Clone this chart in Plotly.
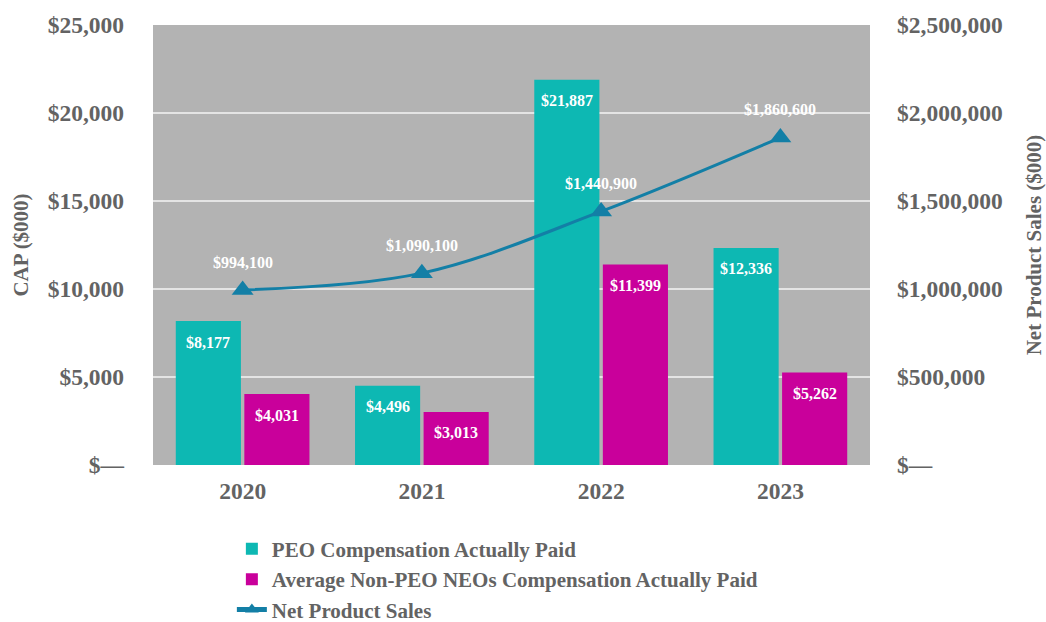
import plotly.graph_objects as go

years = ["2020", "2021", "2022", "2023"]
peo_cap = [8177, 4496, 21887, 12336]
neo_cap = [4031, 3013, 11399, 5262]
net_sales = [994100, 1090100, 1440900, 1860600]

left_ticks = [0, 5000, 10000, 15000, 20000, 25000]
left_text = ["$—", "$5,000", "$10,000", "$15,000", "$20,000", "$25,000"]
right_ticks = [0, 500000, 1000000, 1500000, 2000000, 2500000]
right_text = ["$—", "$500,000", "$1,000,000", "$1,500,000", "$2,000,000", "$2,500,000"]

TEAL = "#0db8b3"
MAGENTA = "#c9009b"
BLUE = "#137fa6"
GRAY = "#636363"
FONT = "Liberation Serif, Times New Roman, serif"

BARGAP = 0.235
OFF = (1 - BARGAP) / 4  # center offset of each bar within group

fig = go.Figure()
fig.add_trace(go.Bar(
    x=years, y=peo_cap, name="PEO Compensation Actually Paid",
    marker=dict(color=TEAL, line=dict(width=0)),
))
fig.add_trace(go.Bar(
    x=years, y=neo_cap, name="Average Non-PEO NEOs Compensation Actually Paid",
    marker=dict(color=MAGENTA, line=dict(width=0)),
))
fig.add_trace(go.Scatter(
    x=years, y=net_sales, name="Net Product Sales", yaxis="y2",
    mode="lines+markers",
    line=dict(color=BLUE, width=3, shape="spline"),
    marker=dict(symbol="triangle-up", size=19, color=BLUE),
))

ann = []
lab_font = dict(family=FONT, size=16, color="white", weight="bold")
for i, v in enumerate(peo_cap):
    ann.append(dict(x=i - OFF, y=v, xref="x", yref="y", text=f"${v:,}", showarrow=False,
                    yshift=-21, font=lab_font))
for i, v in enumerate(neo_cap):
    ann.append(dict(x=i + OFF, y=v, xref="x", yref="y", text=f"${v:,}", showarrow=False,
                    yshift=-21, font=lab_font))
for i, v in enumerate(net_sales):
    ann.append(dict(x=i, y=v, xref="x", yref="y2", text=f"${v:,}", showarrow=False,
                    yshift=28, font=lab_font))

fig.update_layout(
    width=1046, height=622,
    margin=dict(l=153, r=176, t=25, b=157),
    paper_bgcolor="white", plot_bgcolor="#b3b3b3",
    barmode="group", bargap=BARGAP, bargroupgap=0.05,
    font=dict(family=FONT, color=GRAY, size=20, weight="bold"),
    annotations=ann,
    xaxis=dict(showgrid=False, ticks="", automargin=False, ticklabelstandoff=9,
               tickfont=dict(size=23.5, color=GRAY, weight="bold")),
    yaxis=dict(range=[0, 25000], tickvals=left_ticks, ticktext=left_text,
               showgrid=True, gridcolor="#e4e4e4", gridwidth=2, zeroline=False,
               automargin=False, ticklabelstandoff=28,
               tickfont=dict(size=23.5, color=GRAY, weight="bold"), ticks="",
               title=dict(text="CAP ($000)", font=dict(size=21, color=GRAY, weight="bold"), standoff=13)),
    yaxis2=dict(range=[0, 2500000], tickvals=right_ticks, ticktext=right_text,
                overlaying="y", side="right", showgrid=False, zeroline=False,
                automargin=False, ticklabelstandoff=26, ticks="",
                tickfont=dict(size=23.5, color=GRAY, weight="bold"),
                title=dict(text="Net Product Sales ($000)", font=dict(size=21, color=GRAY, weight="bold"), standoff=24)),
    legend=dict(orientation="v", xref="paper", yref="container",
                x=0.110, xanchor="left", y=0.150, yanchor="top",
                font=dict(size=21, color=GRAY, weight="bold"), tracegroupgap=0,
                bgcolor="rgba(0,0,0,0)", itemsizing="constant"),
    showlegend=True,
)

fig.write_html(
    "out.html",
    config={"displayModeBar": False},
    post_script="document.body.style.margin='0';document.body.style.overflow='hidden';",
)
